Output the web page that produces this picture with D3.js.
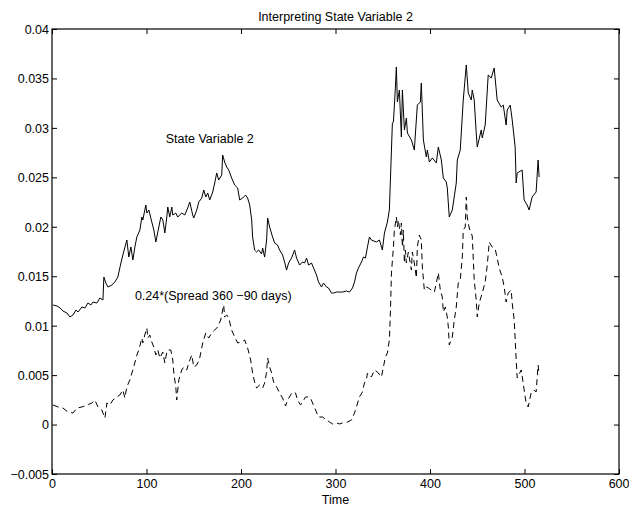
<!DOCTYPE html>
<html><head><meta charset="utf-8">
<script src="https://cdn.jsdelivr.net/npm/d3@7"></script>
<style>
body{margin:0;background:#fff;}
svg{display:block;font-family:"Liberation Sans",Arial,Helvetica,sans-serif;}
</style></head>
<body>
<svg id="chart" width="629" height="513"></svg>
<script>
const chartTitle = "Interpreting State Variable 2";
const xLabel = "Time";
const xTicks = [0,100,200,300,400,500,600];
const yTicks = [-0.005,0,0.005,0.01,0.015,0.02,0.025,0.03,0.035,0.04];
const yTickLabels = ["\u22120.005","0","0.005","0.01","0.015","0.02","0.025","0.03","0.035","0.04"];

// State Variable 2 (solid)
const sTime = [1.1,5.3,8.5,11.6,15.8,19.0,22.2,25.4,27.5,31.7,34.9,38.0,41.2,43.3,47.5,50.7,53.9,54.9,57.0,59.2,63.4,66.5,69.7,72.9,75.0,79.2,81.3,83.5,85.6,87.7,89.8,93.0,95.1,96.1,99.3,100.4,102.5,105.6,107.8,109.9,112.0,115.2,117.3,119.4,121.5,122.5,124.6,126.8,127.8,131.0,133.1,137.3,140.5,143.6,145.8,148.9,150.0,153.2,155.3,158.4,160.6,162.7,164.8,166.9,170.1,172.2,174.3,176.4,179.6,180.6,182.7,184.9,187.0,190.1,193.3,196.5,198.6,201.8,204.9,207.0,209.2,211.3,212.3,214.4,216.5,218.7,221.8,222.9,225.0,227.1,228.2,230.3,233.4,235.6,238.7,240.8,244.0,246.1,248.2,250.4,253.5,256.7,258.8,262.0,265.1,267.3,269.4,271.5,274.6,276.8,279.9,282.0,285.2,287.3,290.5,292.6,295.8,297.9,301.1,304.2,307.4,311.6,314.8,318.0,320.1,322.2,324.3,327.5,329.6,331.7,333.8,335.9,338.0,343.3,346.5,349.6,351.8,354.9,357.0,360.2,361.3,363.4,364.4,365.5,367.6,369.7,370.8,372.9,375.0,376.1,380.3,383.4,386.6,389.8,390.8,393.0,396.1,397.2,399.3,402.5,406.7,408.8,412.0,414.1,417.2,418.3,420.4,423.6,427.8,428.9,432.0,435.2,438.4,440.5,443.7,444.7,446.8,448.9,450.0,454.2,455.3,458.4,461.6,464.8,467.9,471.1,475.3,477.5,480.6,481.7,484.9,487.0,490.1,491.2,492.3,497.5,499.6,502.8,504.9,508.1,512.3,514.4,515.5];
const sVal = [0.01209,0.01199,0.01179,0.01148,0.01128,0.01088,0.01108,0.01158,0.01138,0.01189,0.01179,0.01229,0.01209,0.01239,0.01229,0.01280,0.01260,0.01492,0.01431,0.01391,0.01411,0.01442,0.01492,0.01634,0.01715,0.01866,0.01694,0.01796,0.01664,0.01796,0.01897,0.01967,0.02099,0.02069,0.02220,0.02139,0.02170,0.02048,0.01967,0.01846,0.01947,0.02099,0.02069,0.01937,0.02099,0.02200,0.02099,0.02200,0.02119,0.02139,0.02099,0.02139,0.02119,0.02190,0.02250,0.02119,0.02089,0.02170,0.02250,0.02290,0.02372,0.02301,0.02342,0.02271,0.02352,0.02443,0.02544,0.02473,0.02524,0.02726,0.02655,0.02604,0.02574,0.02493,0.02422,0.02392,0.02271,0.02291,0.02321,0.02291,0.02220,0.02069,0.01897,0.01765,0.01745,0.01765,0.01725,0.01785,0.01694,0.01866,0.02089,0.01998,0.01897,0.01836,0.01816,0.01765,0.01715,0.01644,0.01563,0.01634,0.01684,0.01765,0.01684,0.01613,0.01644,0.01634,0.01684,0.01613,0.01634,0.01583,0.01512,0.01442,0.01391,0.01431,0.01391,0.01381,0.01330,0.01330,0.01340,0.01340,0.01340,0.01351,0.01340,0.01381,0.01442,0.01533,0.01583,0.01644,0.01694,0.01684,0.01795,0.01897,0.01866,0.01846,0.01866,0.01765,0.01937,0.02048,0.02170,0.03049,0.03060,0.03413,0.03616,0.03262,0.03383,0.02908,0.03383,0.02979,0.03100,0.02948,0.02878,0.02776,0.03231,0.03262,0.03454,0.02878,0.02706,0.02776,0.02655,0.02696,0.02645,0.02807,0.02675,0.02493,0.02453,0.02392,0.02099,0.02170,0.02443,0.02675,0.02776,0.03282,0.03636,0.03353,0.03282,0.03383,0.03282,0.02948,0.02807,0.02979,0.02898,0.03029,0.03535,0.03505,0.03606,0.03282,0.03211,0.03231,0.03029,0.03181,0.03231,0.03080,0.02807,0.02443,0.02544,0.02574,0.02271,0.02220,0.02170,0.02301,0.02352,0.02675,0.02503];

// 0.24*(Spread 360 - 90 days) (dashed)
const dTime = [1.1,6.3,11.6,16.9,22.2,26.4,31.7,37.0,42.3,45.4,48.6,52.8,53.9,56.0,58.1,61.3,64.4,68.7,71.8,75.0,77.1,79.2,82.4,84.5,85.6,89.8,91.9,95.1,96.1,98.2,100.4,101.4,103.5,105.6,107.7,109.9,112.0,114.1,117.3,119.4,121.5,122.5,125.7,127.8,128.9,131.0,132.0,134.2,137.3,139.4,142.6,144.7,147.9,150.0,153.2,156.3,159.5,162.7,165.8,169.0,172.2,175.3,178.5,180.6,181.7,182.7,184.9,187.0,190.1,193.3,196.5,200.7,203.9,207.0,210.2,212.3,214.4,216.5,219.7,222.9,225.0,227.1,228.2,230.3,232.4,234.5,237.7,240.8,244.0,247.2,249.3,252.5,254.6,257.7,259.9,263.0,265.1,268.3,270.4,273.6,275.7,278.9,282.0,286.3,290.5,293.7,296.8,301.1,304.2,307.4,312.7,316.9,320.1,322.2,325.3,328.5,330.6,332.7,333.8,338.0,341.2,344.4,348.6,350.7,352.8,354.9,357.0,358.1,359.2,361.3,362.3,364.4,365.5,366.5,368.7,369.7,370.8,371.8,372.9,374.0,375.0,377.1,380.3,381.3,383.4,385.6,386.6,388.7,390.8,391.9,394.0,396.1,398.2,401.4,404.6,406.7,408.8,410.9,413.0,414.1,416.2,418.3,419.4,420.4,423.6,425.7,427.8,429.9,432.0,434.2,435.2,437.3,438.4,439.4,441.5,444.7,446.8,448.9,450.0,452.1,455.3,458.4,460.6,462.7,465.8,469.0,471.1,473.2,476.4,478.5,480.6,482.7,485.9,487.0,489.1,491.2,492.3,496.5,498.6,500.7,501.8,503.9,507.0,510.2,512.3,514.4,515.5];
const dVal = [0.00198,0.00178,0.00167,0.00127,0.00117,0.00167,0.00178,0.00198,0.00218,0.00248,0.00178,0.00147,0.00117,0.00066,0.00218,0.00198,0.00248,0.00279,0.00299,0.00349,0.00269,0.00380,0.00451,0.00521,0.00552,0.00703,0.00754,0.00875,0.00825,0.00906,0.00976,0.00875,0.00906,0.00835,0.00784,0.00703,0.00754,0.00673,0.00734,0.00623,0.00734,0.00754,0.00754,0.00653,0.00521,0.00380,0.00248,0.00451,0.00552,0.00582,0.00552,0.00623,0.00703,0.00582,0.00602,0.00673,0.00825,0.00926,0.00875,0.00926,0.00956,0.00987,0.01057,0.01158,0.01209,0.01088,0.01108,0.01078,0.00956,0.00885,0.00825,0.00835,0.00855,0.00774,0.00653,0.00521,0.00430,0.00370,0.00400,0.00370,0.00420,0.00531,0.00673,0.00582,0.00521,0.00430,0.00380,0.00319,0.00269,0.00188,0.00248,0.00299,0.00329,0.00319,0.00248,0.00198,0.00228,0.00279,0.00279,0.00269,0.00218,0.00147,0.00076,0.00076,0.00046,0.00026,0.00006,0.00016,0.00006,0.00016,0.00026,0.00046,0.00117,0.00178,0.00279,0.00329,0.00420,0.00451,0.00521,0.00481,0.00552,0.00531,0.00481,0.00582,0.00683,0.00724,0.00855,0.01128,0.01533,0.01795,0.01967,0.02099,0.01998,0.02069,0.01917,0.02038,0.01795,0.01967,0.01634,0.01765,0.01634,0.01745,0.01563,0.01745,0.01634,0.01482,0.01795,0.01917,0.01866,0.01593,0.01361,0.01391,0.01381,0.01361,0.01340,0.01431,0.01533,0.01361,0.01290,0.01138,0.01189,0.01088,0.00987,0.00805,0.00885,0.01057,0.01189,0.01431,0.01462,0.01694,0.01967,0.01998,0.02301,0.02099,0.01988,0.01907,0.01462,0.01260,0.01088,0.01229,0.01330,0.01442,0.01613,0.01846,0.01795,0.01775,0.01684,0.01583,0.01492,0.01391,0.01239,0.01330,0.01361,0.01229,0.01057,0.00653,0.00471,0.00552,0.00420,0.00279,0.00218,0.00178,0.00319,0.00349,0.00329,0.00602,0.00501];

const labelSolid = "State Variable 2";
const labelDashed = "0.24*(Spread 360 \u221290 days)";

const svg = d3.select("#chart");
const m = {left:52, right:619, top:29, bottom:474};
const x = d3.scaleLinear().domain([0,600]).range([m.left, m.right]);
const y = d3.scaleLinear().domain([-0.005,0.04]).range([m.bottom, m.top]);
const fmtY = v => yTickLabels[yTicks.indexOf(v)];

const fs = "12.5px";
const gx = svg.append("g").attr("transform",`translate(0,${m.bottom})`)
  .call(d3.axisBottom(x).tickValues(xTicks).tickSizeInner(-5).tickSizeOuter(0).tickPadding(5).tickFormat(d3.format("d")));
const gxt = svg.append("g").attr("transform",`translate(0,${m.top})`)
  .call(d3.axisTop(x).tickValues(xTicks).tickSizeInner(-5).tickSizeOuter(0).tickFormat(""));
const gy = svg.append("g").attr("transform",`translate(${m.left},0)`)
  .call(d3.axisLeft(y).tickValues(yTicks).tickSizeInner(-5).tickSizeOuter(0).tickPadding(3).tickFormat(fmtY));
const gyr = svg.append("g").attr("transform",`translate(${m.right},0)`)
  .call(d3.axisRight(y).tickValues(yTicks).tickSizeInner(-5).tickSizeOuter(0).tickFormat(""));
[gx,gxt,gy,gyr].forEach(g=>{
  g.select(".domain").remove();
  g.selectAll("line").attr("stroke","#000").attr("stroke-width",1);
  g.selectAll("text").attr("font-size",fs).attr("fill","#000").attr("font-family","Liberation Sans, Arial, sans-serif");
});
gy.selectAll("text").attr("dy","0.35em");
gx.selectAll("text").attr("dy","0.71em").attr("y",5);
// keep the last x label inside the picture
gx.selectAll("text").filter(d => d === 600).attr("text-anchor","end").attr("dx","10");

svg.append("rect").attr("x",m.left).attr("y",m.top)
  .attr("width",m.right-m.left).attr("height",m.bottom-m.top)
  .attr("fill","none").attr("stroke","#000").attr("stroke-width",1.2);

const line = d3.line().x(d=>x(d[0])).y(d=>y(d[1]));
svg.append("path").datum(sTime.map((t,i)=>[t,sVal[i]]))
  .attr("d",line).attr("fill","none").attr("stroke","#000").attr("stroke-width",1);
svg.append("path").datum(dTime.map((t,i)=>[t,dVal[i]]))
  .attr("d",line).attr("fill","none").attr("stroke","#000").attr("stroke-width",1)
  .attr("stroke-dasharray","6,4");

svg.append("text").attr("x",(m.left+m.right)/2).attr("y",21).attr("text-anchor","middle")
  .attr("font-size",fs).text(chartTitle);
svg.append("text").attr("x",(m.left+m.right)/2).attr("y",504).attr("text-anchor","middle")
  .attr("font-size",fs).text(xLabel);
svg.append("text").attr("x",x(120.4)).attr("y",y(0.02852)).attr("font-size",fs).text(labelSolid);
svg.append("text").attr("x",x(87.7)).attr("y",y(0.0126)).attr("font-size",fs).text(labelDashed);
</script>
</body></html>
